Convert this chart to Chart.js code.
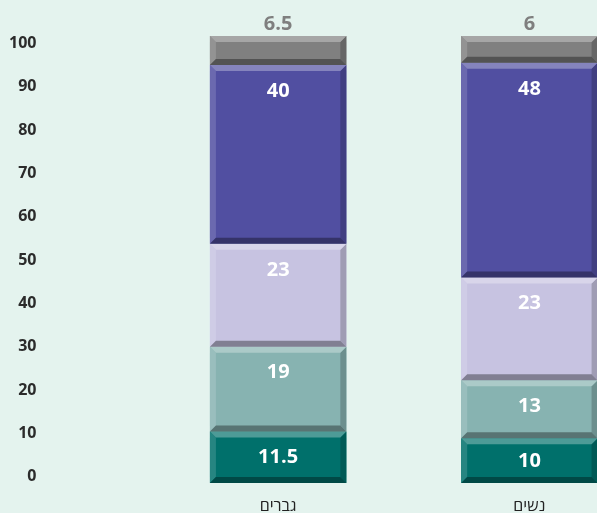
<!DOCTYPE html>
<html lang="he">
<head>
    <meta charset="UTF-8">
    <title>גברים / נשים</title>
    <script src="https://cdn.jsdelivr.net/npm/chart.js"></script>
    <style>
        body {
            margin: 0;
            background-color: #e4f3ee;
            overflow: hidden;
        }
        canvas {
            display: block;
        }
    </style>
</head>
<body>
    <canvas id="chart" width="655" height="513"></canvas>

    <script>
        // data, bottom segment first
        const categories = ['גברים', 'נשים'];
        const level1 = [11.5, 10];
        const level2 = [19, 13];
        const level3 = [23, 23];
        const level4 = [40, 48];
        const level5 = [6.5, 6];
        const yTicks = [0, 10, 20, 30, 40, 50, 60, 70, 80, 90, 100];

        const colors = ['#00706b', '#87b3b1', '#c7c3e1', '#514fa1', '#808080'];

        function mix(hex, target, amt) {
            const n = parseInt(hex.slice(1), 16);
            const r = (n >> 16) & 255, g = (n >> 8) & 255, b = n & 255;
            const f = c => Math.round(c + (target - c) * amt);
            return `rgb(${f(r)},${f(g)},${f(b)})`;
        }

        // 3d bevel drawn over each bar segment
        const bevelPlugin = {
            id: 'bevel',
            afterDatasetsDraw(chart) {
                const ctx = chart.ctx;
                const s = 6;
                chart.data.datasets.forEach((ds, di) => {
                    const meta = chart.getDatasetMeta(di);
                    const base = colors[di];
                    meta.data.forEach((el, i) => {
                        const p = el.getProps(['x', 'y', 'base', 'width'], true);
                        const l = p.x - p.width / 2, r = p.x + p.width / 2;
                        const t = Math.min(p.y, p.base), b = Math.max(p.y, p.base);
                        const poly = (pts, fill) => {
                            ctx.beginPath();
                            ctx.moveTo(pts[0][0], pts[0][1]);
                            pts.slice(1).forEach(q => ctx.lineTo(q[0], q[1]));
                            ctx.closePath();
                            ctx.fillStyle = fill;
                            ctx.fill();
                        };
                        ctx.save();
                        poly([[l, t], [l + s, t + s], [l + s, b - s], [l, b]], mix(base, 255, 0.15));
                        poly([[r, t], [r - s, t + s], [r - s, b - s], [r, b]], mix(base, 0, 0.2));
                        poly([[l, t], [r, t], [r - s, t + s], [l + s, t + s]], mix(base, 255, 0.3));
                        poly([[l, b], [r, b], [r - s, b - s], [l + s, b - s]], mix(base, 0, 0.35));
                        ctx.restore();
                    });
                });
            }
        };

        const valueLabels = {
            id: 'valueLabels',
            afterDatasetsDraw(chart) {
                const ctx = chart.ctx;
                const last = chart.data.datasets.length - 1;
                ctx.save();
                ctx.textAlign = 'center';
                ctx.textBaseline = 'middle';
                chart.data.datasets.forEach((ds, di) => {
                    const meta = chart.getDatasetMeta(di);
                    meta.data.forEach((el, i) => {
                        const p = el.getProps(['x', 'y', 'base'], true);
                        const t = Math.min(p.y, p.base), b = Math.max(p.y, p.base);
                        const txt = String(ds.data[i]);
                        if (di === last) {
                            ctx.fillStyle = '#7f7f7f';
                            ctx.font = 'bold 20px "Open Sans", sans-serif';
                            ctx.fillText(txt, p.x, t - 12);
                        } else {
                            ctx.fillStyle = '#ffffff';
                            ctx.font = 'bold 20px "Open Sans", sans-serif';
                            ctx.fillText(txt, p.x, Math.min(t + 26, (t + b) / 2 + 1));
                        }
                    });
                });
                ctx.restore();
            }
        };

        const seriesData = [level1, level2, level3, level4, level5];

        new Chart(document.getElementById('chart'), {
            type: 'bar',
            data: {
                labels: categories,
                datasets: seriesData.map((d, i) => ({
                    data: d,
                    backgroundColor: colors[i],
                    borderWidth: 0,
                    categoryPercentage: 1,
                    barPercentage: 0.543
                }))
            },
            options: {
                responsive: false,
                animation: false,
                devicePixelRatio: 1,
                layout: { padding: { top: 36 } },
                plugins: {
                    legend: { display: false },
                    tooltip: { enabled: false }
                },
                scales: {
                    x: {
                        stacked: true,
                        grid: { display: false },
                        border: { display: false },
                        afterFit(scale) {
                            scale.height = 30;
                            scale.paddingLeft = 0;
                            scale.paddingRight = 0;
                        },
                        ticks: {
                            padding: 6,
                            color: '#222',
                            font: { family: '"Open Sans", "DejaVu Sans", sans-serif', size: 16 }
                        }
                    },
                    y: {
                        display: false,
                        stacked: true,
                        min: 0,
                        max: 100
                    },
                    yl: {
                        position: 'left',
                        min: -1.45,
                        max: 101.69,
                        grid: { display: false },
                        border: { display: false },
                        afterFit(scale) {
                            scale.width = 152.5;
                            scale.paddingTop = 0;
                            scale.paddingBottom = 0;
                        },
                        afterBuildTicks(scale) {
                            scale.ticks = yTicks.map(v => ({ value: v }));
                        },
                        ticks: {
                            padding: 108,
                            color: '#2b2b2b',
                            font: { family: '"Open Sans", sans-serif', size: 16, weight: 'bold' }
                        }
                    }
                }
            },
            plugins: [bevelPlugin, valueLabels]
        });
    </script>
</body>
</html>
